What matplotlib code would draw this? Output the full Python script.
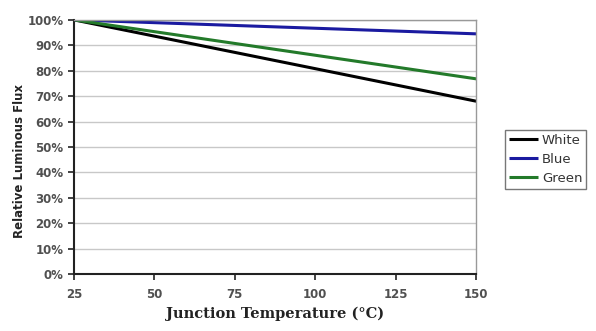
import matplotlib.pyplot as plt
from matplotlib.ticker import PercentFormatter

temps = [25, 150]
white = [100, 68]
blue = [100, 94.5]
green = [100, 76.8]
series_names = ["White", "Blue", "Green"]
series_colors = ["#000000", "#1a1aa0", "#237a2a"]

fig = plt.figure(figsize=(5.96, 3.31), dpi=100)
ax = fig.add_axes([0.124, 0.172, 0.675, 0.768])

for vals, name, col in zip([white, blue, green], series_names, series_colors):
    ax.plot(temps, vals, color=col, lw=2.2, label=name, solid_capstyle="butt")

ax.set_xlim(25, 150)
ax.set_ylim(0, 100)
ax.set_xticks([25, 50, 75, 100, 125, 150])
ax.set_yticks(range(0, 101, 10))
ax.yaxis.set_major_formatter(PercentFormatter(decimals=0))
ax.grid(axis="y", color="#c8c8c8", lw=1)
ax.set_axisbelow(True)

for side in ["top", "right"]:
    ax.spines[side].set_color("#999999")
    ax.spines[side].set_linewidth(1)
for side in ["left", "bottom"]:
    ax.spines[side].set_color("#222222")
    ax.spines[side].set_linewidth(1.5)

ax.tick_params(axis="both", direction="out", length=4, width=1.2, color="#222222",
               labelsize=8.5, labelcolor="#505050")
for lbl in ax.get_yticklabels() + ax.get_xticklabels():
    lbl.set_fontweight("bold")
ax.tick_params(axis="x", pad=6)

ax.set_ylabel("Relative Luminous Flux", fontsize=8.5, fontweight="bold", color="#222222")
ax.yaxis.set_label_coords(-0.12, 0.445)
ax.set_xlabel("Junction Temperature (\u00b0C)", fontsize=10.5, fontweight="bold", color="#222222",
              family="DejaVu Serif", labelpad=4)

leg = fig.legend(loc="upper left", bbox_to_anchor=(0.847, 0.607), fontsize=9.5,
                 frameon=True, fancybox=False, edgecolor="#555555", handlelength=2.2,
                 handletextpad=0.3, borderpad=0.3, labelspacing=0.45, borderaxespad=0)
leg.get_frame().set_linewidth(1)
for t in leg.get_texts():
    t.set_color("#333333")

fig.savefig("out.png", dpi=100)
